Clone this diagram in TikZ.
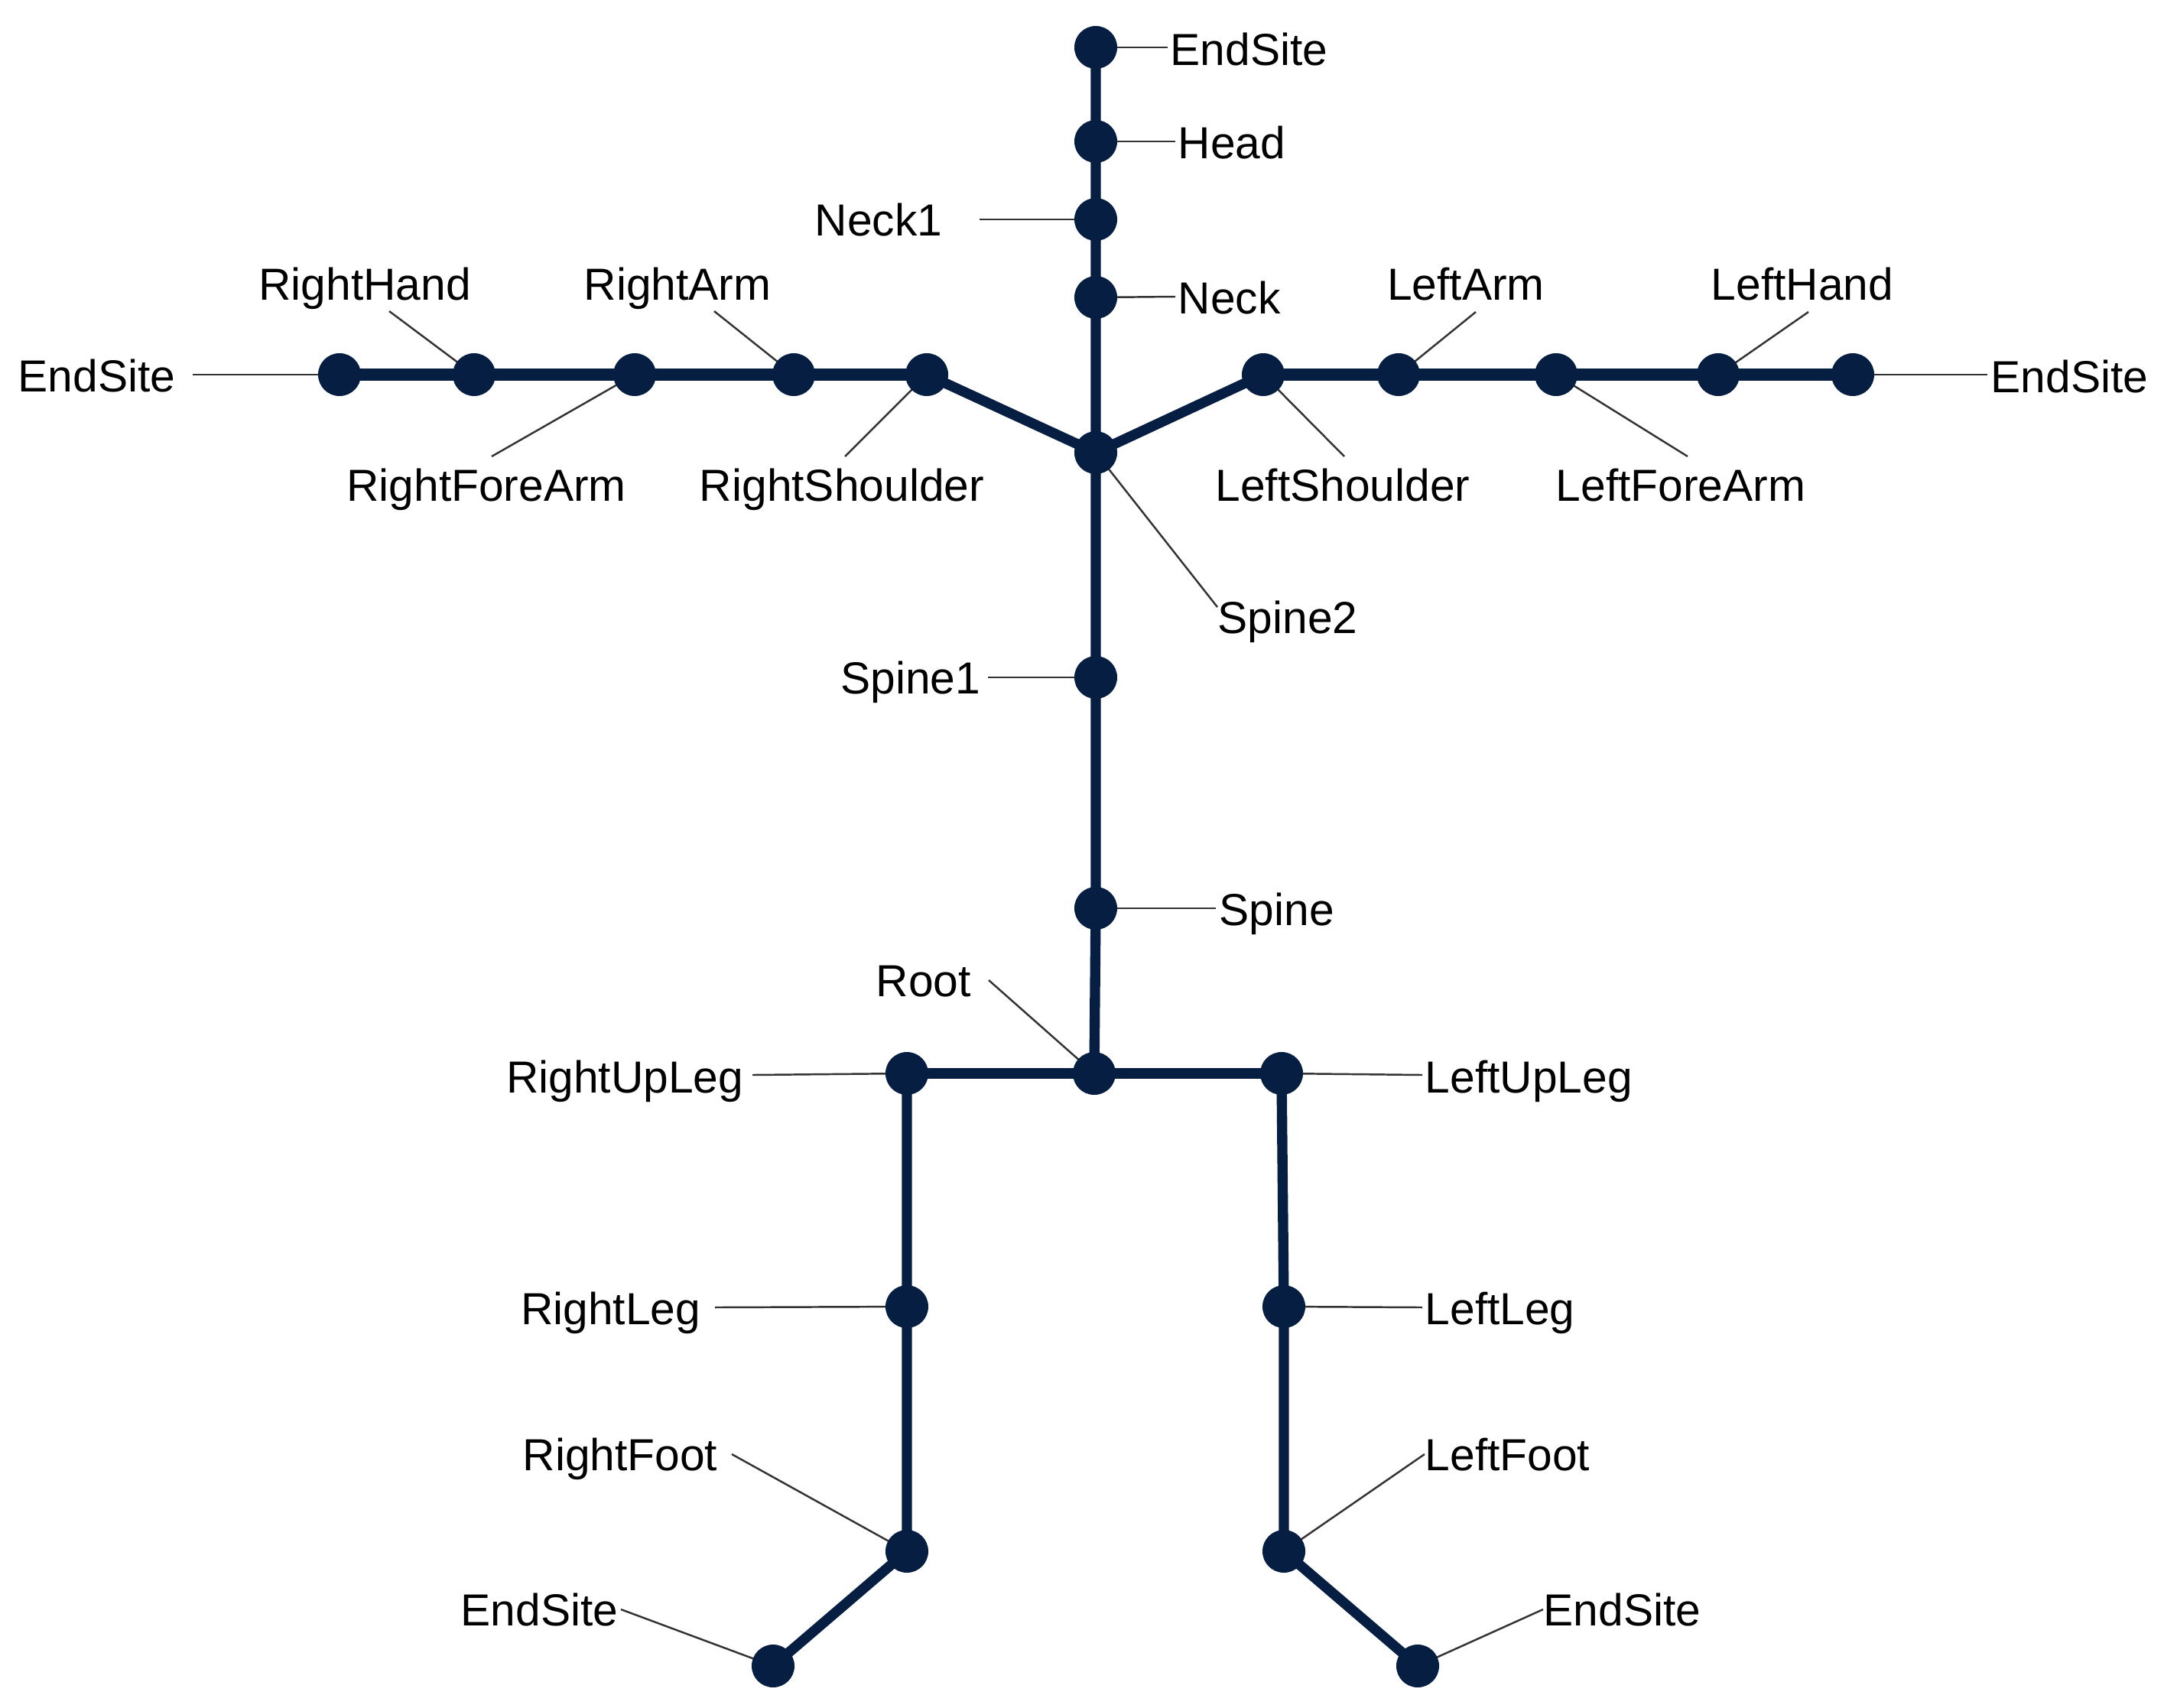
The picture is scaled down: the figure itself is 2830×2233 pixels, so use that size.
\documentclass[tikz,border=0pt]{standalone}
\usepackage{fontspec}
\setmainfont{Liberation Sans}
\usetikzlibrary{backgrounds}
\definecolor{bone}{RGB}{6,30,66}
\begin{document}
\begin{tikzpicture}[x=0.01cm,y=-0.01cm,
  joint/.style={circle,fill=bone,inner sep=0pt,minimum size=0.56cm},
  bonel/.style={draw=bone,line width=3.8pt},
  armbone/.style={draw=bone,line width=4.3pt},
  leader/.style={draw=black!80,line width=0.7pt},
  lbl/.style={inner sep=0pt,font=\fontsize{16.7pt}{20pt}\selectfont}]
\useasboundingbox (0,0) rectangle (2830,2233);
% joints
\node[joint] (es1) at (1433,62) {};
\node[joint] (head) at (1433,185) {};
\node[joint] (neck1) at (1433,287) {};
\node[joint] (neck) at (1433,389) {};
\node[joint] (spine2) at (1433,592) {};
\node[joint] (spine1) at (1433,886) {};
\node[joint] (spine) at (1433,1188) {};
\node[joint] (root) at (1431,1404) {};
\node[joint] (rsh) at (1212,490) {};
\node[joint] (rarm) at (1038,490) {};
\node[joint] (rfa) at (830,490) {};
\node[joint] (rhand) at (620,490) {};
\node[joint] (res) at (444,490) {};
\node[joint] (lsh) at (1652,490) {};
\node[joint] (larm) at (1829,490) {};
\node[joint] (lfa) at (2035,490) {};
\node[joint] (lhand) at (2247,490) {};
\node[joint] (les) at (2423,490) {};
\node[joint] (rul) at (1186,1404) {};
\node[joint] (rleg) at (1186,1709) {};
\node[joint] (rfoot) at (1186,2029) {};
\node[joint] (rfes) at (1011,2179) {};
\node[joint] (lul) at (1676,1404) {};
\node[joint] (lleg) at (1679,1709) {};
\node[joint] (lfoot) at (1679,2029) {};
\node[joint] (lfes) at (1854,2179) {};
% labels
\node[lbl,anchor=base west] (tEs1) at (1530,85) {EndSite};
\node[lbl,anchor=base west] (tHead) at (1540,207) {Head};
\node[lbl,anchor=base east] (tNeck1) at (1233,308) {Neck1};
\node[lbl,anchor=base west] (tNeck) at (1540,410) {Neck};
\node[lbl,anchor=base] (tRHand) at (477,392) {RightHand};
\node[lbl,anchor=base] (tRArm) at (886,392) {RightArm};
\node[lbl,anchor=base] (tLArm) at (1917,392) {LeftArm};
\node[lbl,anchor=base] (tLHand) at (2357,392) {LeftHand};
\node[lbl,anchor=base west] (tRes) at (23,512) {EndSite};
\node[lbl,anchor=base west] (tLes) at (2603,513) {EndSite};
\node[lbl,anchor=base] (tRFA) at (636,655) {RightForeArm};
\node[lbl,anchor=base] (tRSh) at (1101,655) {RightShoulder};
\node[lbl,anchor=base] (tLSh) at (1756,655) {LeftShoulder};
\node[lbl,anchor=base] (tLFA) at (2198,655) {LeftForeArm};
\node[lbl,anchor=base west] (tSp2) at (1592,828) {Spine2};
\node[lbl,anchor=base east] (tSp1) at (1283,907) {Spine1};
\node[lbl,anchor=base west] (tSp) at (1594,1210) {Spine};
\node[lbl,anchor=base west] (tRoot) at (1145,1303) {Root};
\node[lbl,anchor=base east] (tRUL) at (973,1429) {RightUpLeg};
\node[lbl,anchor=base west] (tLUL) at (1863,1429) {LeftUpLeg};
\node[lbl,anchor=base east] (tRLeg) at (917,1732) {RightLeg};
\node[lbl,anchor=base west] (tLLeg) at (1863,1732) {LeftLeg};
\node[lbl,anchor=base east] (tRFoot) at (939,1923) {RightFoot};
\node[lbl,anchor=base west] (tLFoot) at (1863,1923) {LeftFoot};
\node[lbl,anchor=base east] (tRFes) at (809,2126) {EndSite};
\node[lbl,anchor=base west] (tLFes) at (2018,2126) {EndSite};
% leader ends
\coordinate (lEs1) at (1527,62);
\coordinate (lHead) at (1537,185);
\coordinate (lNeck1) at (1281,287);
\coordinate (lNeck) at (1537,388);
\coordinate (lRHand) at (509,407);
\coordinate (lRArm) at (934,407);
\coordinate (lLArm) at (1930,408);
\coordinate (lLHand) at (2365,408);
\coordinate (lRes) at (252,490);
\coordinate (lLes) at (2599,490);
\coordinate (lRFA) at (643,597);
\coordinate (lRSh) at (1105,597);
\coordinate (lLSh) at (1758,597);
\coordinate (lLFA) at (2207,597);
\coordinate (lSp2) at (1592,794);
\coordinate (lSp1) at (1292,886);
\coordinate (lSp) at (1590,1188);
\coordinate (lRoot) at (1293,1282);
\coordinate (lRUL) at (984,1406);
\coordinate (lLUL) at (1860,1406);
\coordinate (lRLeg) at (935,1710);
\coordinate (lLLeg) at (1860,1710);
\coordinate (lRFoot) at (957,1902);
\coordinate (lLFoot) at (1863,1902);
\coordinate (lRFes) at (812,2105);
\coordinate (lLFes) at (2018,2105);
\begin{pgfonlayer}{background}
% leaders
\draw[leader] (lEs1) -- (es1.center);
\draw[leader] (lHead) -- (head.center);
\draw[leader] (lNeck1) -- (neck1.center);
\draw[leader] (lNeck) -- (neck.center);
\draw[leader] (lRHand) -- (rhand.center);
\draw[leader] (lRArm) -- (rarm.center);
\draw[leader] (lLArm) -- (larm.center);
\draw[leader] (lLHand) -- (lhand.center);
\draw[leader] (lRes) -- (res.center);
\draw[leader] (lLes) -- (les.center);
\draw[leader] (lRFA) -- (rfa.center);
\draw[leader] (lRSh) -- (rsh.center);
\draw[leader] (lLSh) -- (lsh.center);
\draw[leader] (lLFA) -- (lfa.center);
\draw[leader] (lSp2) -- (spine2.center);
\draw[leader] (lSp1) -- (spine1.center);
\draw[leader] (lSp) -- (spine.center);
\draw[leader] (lRoot) -- (root.center);
\draw[leader] (lRUL) -- (rul.center);
\draw[leader] (lLUL) -- (lul.center);
\draw[leader] (lRLeg) -- (rleg.center);
\draw[leader] (lLLeg) -- (lleg.center);
\draw[leader] (lRFoot) -- (rfoot.center);
\draw[leader] (lLFoot) -- (lfoot.center);
\draw[leader] (lRFes) -- (rfes.center);
\draw[leader] (lLFes) -- (lfes.center);
% bones
\draw[bonel] (es1.center) -- (head.center) -- (neck1.center) -- (neck.center) -- (spine2.center) -- (spine1.center) -- (spine.center) -- (root.center);
\draw[bonel] (spine2.center) -- (rsh.center);
\draw[bonel] (spine2.center) -- (lsh.center);
\draw[armbone] (rsh.center) -- (rarm.center) -- (rfa.center) -- (rhand.center) -- (res.center);
\draw[armbone] (lsh.center) -- (larm.center) -- (lfa.center) -- (lhand.center) -- (les.center);
\draw[bonel] (rul.center) -- (root.center) -- (lul.center);
\draw[bonel] (rul.center) -- (rleg.center) -- (rfoot.center) -- (rfes.center);
\draw[bonel] (lul.center) -- (lleg.center) -- (lfoot.center) -- (lfes.center);
\end{pgfonlayer}
\end{tikzpicture}
\end{document}
